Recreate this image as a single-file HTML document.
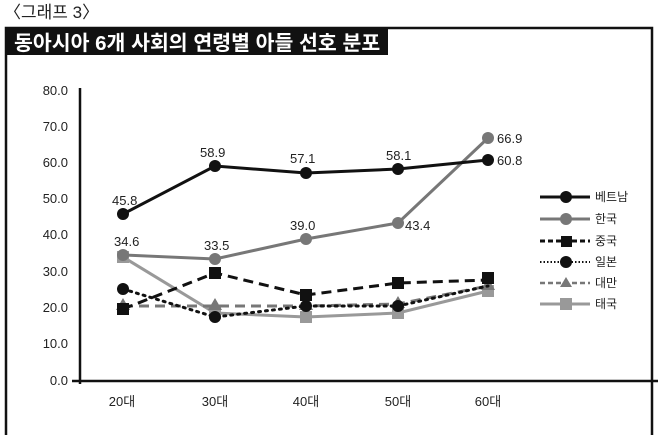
<!DOCTYPE html>
<html><head><meta charset="utf-8"><style>
body{margin:0;background:#fff;}
svg{display:block;font-family:"Liberation Sans","Noto Sans CJK KR",sans-serif;}
</style></head><body>
<svg width="658" height="435" viewBox="0 0 658 435">
<text x="4" y="18" font-size="17" fill="#222">〈그래프 3〉</text>
<rect x="6" y="28" width="646" height="420" fill="none" stroke="#111" stroke-width="2.5"/>
<rect x="5" y="27" width="383" height="28" fill="#111"/>
<text x="14" y="50" font-size="20.5" font-weight="bold" fill="#fff">동아시아 6개 사회의 연령별 아들 선호 분포</text>
<g font-size="13" fill="#222" text-anchor="end">
<text x="68" y="385">0.0</text><text x="68" y="348">10.0</text><text x="68" y="312">20.0</text><text x="68" y="276">30.0</text>
<text x="68" y="239">40.0</text><text x="68" y="203">50.0</text><text x="68" y="167">60.0</text><text x="68" y="131">70.0</text><text x="68" y="95">80.0</text>
</g>
<line x1="80" y1="88" x2="80" y2="384" stroke="#111" stroke-width="2.5"/>
<line x1="72" y1="381" x2="658" y2="381" stroke="#111" stroke-width="2.5"/>
<g font-size="13" fill="#222" text-anchor="middle">
<text x="122" y="406">20대</text><text x="215" y="406">30대</text><text x="306" y="406">40대</text><text x="398" y="406">50대</text><text x="488" y="406">60대</text>
</g>
<polyline points="123,257 215,313 306,317 398,313 488,291" fill="none" stroke="#999" stroke-width="3"/>
<g fill="#999"><rect x="117" y="251" width="12" height="12"/><rect x="209" y="307" width="12" height="12"/><rect x="300" y="311" width="12" height="12"/><rect x="392" y="307" width="12" height="12"/><rect x="482" y="285" width="12" height="12"/></g>
<polyline points="123,306 215,306 306,306 398,304 488,286" fill="none" stroke="#777" stroke-width="3" stroke-dasharray="10,6"/>
<g fill="#777"><path d="M123,298 l7,12 h-14z"/><path d="M215,298 l7,12 h-14z"/><path d="M306,298 l7,12 h-14z"/><path d="M398,296 l7,12 h-14z"/><path d="M488,278 l7,12 h-14z"/></g>
<polyline points="123,289 215,317 306,306 398,306 488,286" fill="none" stroke="#111" stroke-width="3" stroke-dasharray="2,5" stroke-linecap="round"/>
<g fill="#111"><circle cx="123" cy="289" r="6"/><circle cx="215" cy="317" r="6"/><circle cx="306" cy="306" r="6"/><circle cx="398" cy="306" r="6"/></g>
<polyline points="123,309 215,273 306,295 398,283 488,280" fill="none" stroke="#111" stroke-width="3" stroke-dasharray="10,6"/>
<g fill="#111"><rect x="117" y="303" width="12" height="12"/><rect x="209" y="267" width="12" height="12"/><rect x="300" y="289" width="12" height="12"/><rect x="392" y="277" width="12" height="12"/><rect x="482" y="272" width="12" height="12"/></g>
<polyline points="123,255 215,259 306,239 398,223 488,138" fill="none" stroke="#777" stroke-width="3"/>
<g fill="#777"><circle cx="123" cy="255" r="6"/><circle cx="215" cy="259" r="6"/><circle cx="306" cy="239" r="6"/><circle cx="398" cy="223" r="6"/><circle cx="488" cy="138" r="6"/></g>
<polyline points="123,214 215,166 306,173 398,169 488,160" fill="none" stroke="#111" stroke-width="3"/>
<g fill="#111"><circle cx="123" cy="214" r="6"/><circle cx="215" cy="166" r="6"/><circle cx="306" cy="173" r="6"/><circle cx="398" cy="169" r="6"/><circle cx="488" cy="160" r="6"/></g>
<g font-size="13" fill="#222">
<text x="112" y="205">45.8</text><text x="200" y="157">58.9</text><text x="290" y="163">57.1</text><text x="386" y="160">58.1</text><text x="497" y="165">60.8</text><text x="497" y="143">66.9</text>
<text x="114" y="246">34.6</text><text x="204" y="250">33.5</text><text x="290" y="230">39.0</text><text x="405" y="230">43.4</text>
</g>
<g font-size="12" fill="#222">
<line x1="540" y1="197" x2="590" y2="197" stroke="#111" stroke-width="3"/><circle cx="566" cy="197" r="6" fill="#111"/><text x="595" y="201">베트남</text>
<line x1="540" y1="219" x2="590" y2="219" stroke="#777" stroke-width="3"/><circle cx="566" cy="219" r="6" fill="#777"/><text x="595" y="223">한국</text>
<line x1="540" y1="241" x2="590" y2="241" stroke="#111" stroke-width="3" stroke-dasharray="5,3"/><rect x="561" y="236" width="11" height="11" fill="#111"/><text x="595" y="245">중국</text>
<line x1="540" y1="262" x2="590" y2="262" stroke="#111" stroke-width="2" stroke-dasharray="1.5,2"/><circle cx="566" cy="262" r="6" fill="#111"/><text x="595" y="266">일본</text>
<line x1="540" y1="283" x2="590" y2="283" stroke="#777" stroke-width="2.5" stroke-dasharray="5,3"/><path d="M566,277 l6,10 h-12z" fill="#777"/><text x="595" y="287">대만</text>
<line x1="540" y1="304" x2="590" y2="304" stroke="#999" stroke-width="3"/><rect x="560" y="298" width="12" height="12" fill="#999"/><text x="595" y="308">태국</text>
</g>
</svg>
</body></html>
